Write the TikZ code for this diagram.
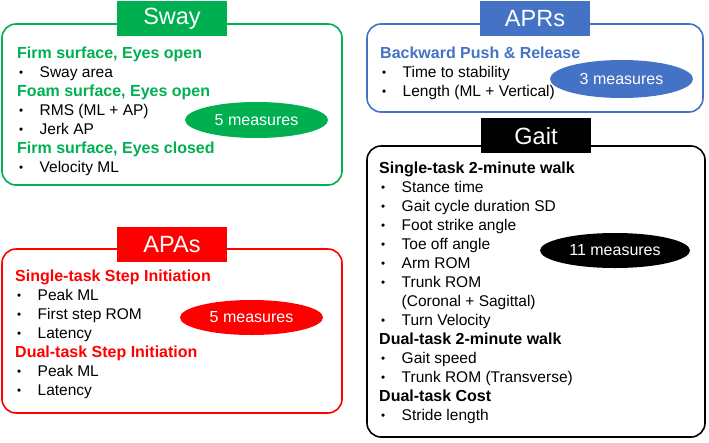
\documentclass[tikz,border=0pt]{standalone}
\usepackage{fontspec}
\setmainfont{Liberation Sans}
\usepackage{xcolor}
\usepackage{tikz}
\usetikzlibrary{shapes.geometric,positioning}
\definecolor{swaygreen}{RGB}{0,176,80}
\definecolor{aprblue}{RGB}{68,114,196}
\definecolor{apared}{RGB}{255,0,0}
\newcommand{\itm}[1]{{\color{black}\mdseries\fontsize{15.5}{19}\selectfont\makebox[22.5pt][l]{\hspace{2pt}\raisebox{1pt}{\scalebox{0.75}{•}}}#1}}
\newcommand{\cnt}[1]{{\color{black}\mdseries\fontsize{15.5}{19}\selectfont\hspace*{22.5pt}#1}}
\begin{document}
\begin{tikzpicture}[x=1pt,y=-1pt,line cap=round,line join=round,
  panel/.style={draw,line width=1.6pt,rounded corners=14pt,minimum width=#1,inner sep=0pt},
  title/.style={fill=#1,text=white,minimum width=110pt,minimum height=35pt,inner sep=0pt,
    font=\fontsize{23.5}{26}\selectfont},
  list/.style={anchor=north west,inner sep=0pt,align=left,text=#1,
    font=\fontsize{16}{19}\selectfont\bfseries},
  count/.style={ellipse,fill=#1,text=white,minimum width=143pt,minimum height=36pt,inner sep=0pt,
    font=\fontsize{16}{19}\selectfont}]
\useasboundingbox (0,0) rectangle (709,442);
% Sway
\node[panel=340pt,minimum height=161pt,draw=swaygreen] (sway) at (172,104.5) {};
\node[title=swaygreen] (swayttl) at ([yshift=4.5pt]sway.north) {Sway};
\node[list=swaygreen] (swaytxt) at (17,47) {Firm surface, Eyes open\\
  \itm{Sway area}\\
  Foam surface, Eyes open\\
  \itm{RMS (ML + AP)}\\
  \itm{Jerk AP}\\
  Firm surface, Eyes closed\\
  \itm{Velocity ML}};
\node[count=swaygreen] (swaynum) at (256.5,120) {5 measures};
% APRs
\node[panel=336pt,minimum height=88pt,draw=aprblue] (aprs) at (535,68) {};
\node[title=aprblue] (aprsttl) at ([yshift=4.5pt]aprs.north) {APRs};
\node[list=aprblue] (aprstxt) at (380,47) {Backward Push \& Release\\
  \itm{Time to stability}\\
  \itm{Length (ML + Vertical)}};
\node[count=aprblue,minimum height=38pt] (aprsnum) at (621.5,79) {3 measures};
% Gait
\node[panel=338pt,minimum height=291pt,draw=black] (gait) at (536,291.5) {};
\node[title=black] (gaitttl) at ([yshift=9.5pt]gait.north) {Gait};
\node[list=black] (gaittxt) at (379,162) {Single-task 2-minute walk\\
  \itm{Stance time}\\
  \itm{Gait cycle duration SD}\\
  \itm{Foot strike angle}\\
  \itm{Toe off angle}\\
  \itm{Arm ROM}\\
  \itm{Trunk ROM}\\
  \cnt{(Coronal + Sagittal)}\\
  \itm{Turn Velocity}\\
  Dual-task 2-minute walk\\
  \itm{Gait speed}\\
  \itm{Trunk ROM (Transverse)}\\
  Dual-task Cost\\
  \itm{Stride length}};
\node[count=black,minimum width=150pt,minimum height=35pt] (gaitnum) at (615,250.5) {11 measures};
% APAs
\node[panel=340pt,minimum height=164pt,draw=apared] (apas) at (172,331) {};
\node[title=apared] (apasttl) at ([yshift=4pt]apas.north) {APAs};
\node[list=apared] (apastxt) at (15,270) {Single-task Step Initiation\\
  \itm{Peak ML}\\
  \itm{First step ROM}\\
  \itm{Latency}\\
  Dual-task Step Initiation\\
  \itm{Peak ML}\\
  \itm{Latency}};
\node[count=apared,minimum height=35pt] (apasnum) at (251.5,317.5) {5 measures};
\end{tikzpicture}
\end{document}
